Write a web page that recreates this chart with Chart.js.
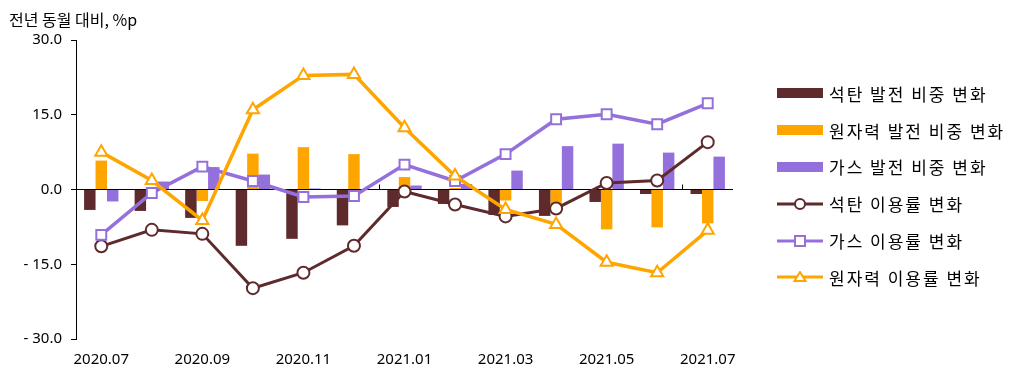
<!DOCTYPE html>
<html>
<head>
<meta charset="utf-8">
<script src="https://cdn.jsdelivr.net/npm/chart.js@4/dist/chart.umd.min.js"></script>
<style>
  body { margin: 0; background: #fff; }
  #wrap { position: relative; width: 1024px; height: 375px; font-family: "Noto Sans CJK KR", "Noto Sans", sans-serif; color: #000; }
  #title { position: absolute; left: 9px; top: 7px; font-size: 16px; }
  #legend { position: absolute; left: 777px; top: 75px; }
  .row { height: 36.8px; display: flex; align-items: center; font-size: 17px; letter-spacing: 2px; }
  .row svg { margin-right: 5px; flex: none; }
</style>
</head>
<body>
<div id="wrap">
  <canvas id="chart" width="1024" height="375"></canvas>
  <div id="title">전년 동월 대비, %p</div>
  <div id="legend"></div>
</div>
<script>
const months = ['2020.07', '2020.08', '2020.09', '2020.10', '2020.11', '2020.12',
  '2021.01', '2021.02', '2021.03', '2021.04', '2021.05', '2021.06', '2021.07'];

// 발전 비중 변화 (bars)
const coalShare = [-4.1, -4.3, -5.7, -11.3, -9.9, -7.2, -3.5, -2.9, -5.1, -5.3, -2.5, -0.9, -0.9];
const nuclearShare = [5.8, 0.0, -2.3, 7.2, 8.5, 7.1, 2.5, 0.3, -2.2, -3.0, -8.0, -7.6, -6.8];
const gasShare = [-2.4, 1.6, 4.5, 3.0, 0.2, 0.0, 0.8, 1.1, 3.8, 8.7, 9.2, 7.4, 6.6];

// 이용률 변화 (lines)
const coalUtil = [-11.4, -8.1, -8.9, -19.8, -16.7, -11.3, -0.4, -3.0, -5.4, -3.8, 1.3, 1.8, 9.5];
const gasUtil = [-9.1, -0.7, 4.6, 1.7, -1.5, -1.3, 5.0, 1.7, 7.1, 14.1, 15.1, 13.1, 17.3];
const nuclearUtil = [7.5, 1.8, -6.2, 16.0, 22.9, 23.1, 12.4, 2.7, -4.0, -7.0, -14.6, -16.7, -8.2];

const yTicks = [-30, -15, 0, 15, 30];

const BROWN = '#5e2a2c';
const ORANGE = '#ffa500';
const PURPLE = '#9370db';

const datasets = [
  { type: 'line', label: '석탄 이용률 변화', data: coalUtil, borderColor: BROWN, borderWidth: 3,
    pointStyle: 'circle', pointRadius: 6, pointBorderWidth: 2, pointBackgroundColor: '#fff', pointBorderColor: BROWN, order: 2 },
  { type: 'line', label: '가스 이용률 변화', data: gasUtil, borderColor: PURPLE, borderWidth: 3.5,
    pointStyle: 'rect', pointRadius: 7, pointBorderWidth: 2, pointBackgroundColor: '#fff', pointBorderColor: PURPLE, order: 1 },
  { type: 'line', label: '원자력 이용률 변화', data: nuclearUtil, borderColor: ORANGE, borderWidth: 3.5,
    pointStyle: 'triangle', pointRadius: 7, pointBorderWidth: 2, pointBackgroundColor: '#fff', pointBorderColor: ORANGE, order: 0 },
  { type: 'bar', label: '석탄 발전 비중 변화', data: coalShare, backgroundColor: BROWN, order: 3 },
  { type: 'bar', label: '원자력 발전 비중 변화', data: nuclearShare, backgroundColor: ORANGE, order: 3 },
  { type: 'bar', label: '가스 발전 비중 변화', data: gasShare, backgroundColor: PURPLE, order: 3 }
];

// small tick marks on the zero line, every 6 categories
const zeroTicks = {
  id: 'zeroTicks',
  afterDatasetsDraw(chart) {
    const x = chart.scales.x, y = chart.scales.y;
    const y0 = y.getPixelForValue(0);
    const ctx = chart.ctx;
    ctx.save();
    ctx.strokeStyle = '#000';
    ctx.lineWidth = 1;
    for (let i = 6; i < months.length; i += 6) {
      const px = Math.round((x.getPixelForValue(i - 1) + x.getPixelForValue(i)) / 2) + 0.5;
      ctx.beginPath();
      ctx.moveTo(px, y0 - 5);
      ctx.lineTo(px, y0);
      ctx.stroke();
    }
    ctx.restore();
  }
};

new Chart(document.getElementById('chart'), {
  data: { labels: months, datasets: datasets },
  plugins: [zeroTicks],
  options: {
    responsive: false,
    animation: false,
    layout: { padding: { left: 0, top: 40, right: 291, bottom: 0 } },
    datasets: {
      bar: { categoryPercentage: 0.68, barPercentage: 1.0 },
      line: { tension: 0 }
    },
    plugins: { legend: { display: false }, tooltip: { enabled: false } },
    scales: {
      x: {
        offset: true,
        grid: { display: false, drawTicks: false },
        border: { display: false },
        ticks: {
          autoSkip: false, maxRotation: 0, padding: 12,
          color: '#000', font: { family: '"Noto Sans", sans-serif', size: 15 },
          callback: (v, i) => (i % 2 === 0 ? months[i] : '')
        },
        afterFit: s => { s.height = 36; }
      },
      y: {
        min: -30, max: 30,
        afterBuildTicks: s => { s.ticks = yTicks.map(v => ({ value: v })); },
        grid: {
          color: c => (c.tick && c.tick.value === 0 ? '#000' : 'rgba(0,0,0,0)'),
          tickColor: '#000', tickLength: 5, lineWidth: 1
        },
        border: { display: true, color: '#000', width: 1 },
        ticks: {
          padding: 9, color: '#000', font: { family: '"Noto Sans", sans-serif', size: 15 },
          callback: v => (v < 0 ? '- ' + Math.abs(v).toFixed(1) : v.toFixed(1))
        },
        afterFit: s => { s.width = 76; }
      }
    }
  }
});

// legend: bars first, then lines
const legendOrder = [3, 4, 5, 0, 1, 2];
const legend = document.getElementById('legend');
legendOrder.forEach(idx => {
  const ds = datasets[idx];
  let svg;
  if (ds.type === 'bar') {
    svg = `<svg width="47" height="12"><rect x="0" y="1" width="46" height="10" fill="${ds.backgroundColor}"/></svg>`;
  } else {
    const c = ds.borderColor;
    let marker;
    if (ds.pointStyle === 'circle') marker = `<circle cx="23" cy="6" r="5" fill="#fff" stroke="${c}" stroke-width="2"/>`;
    else if (ds.pointStyle === 'rect') marker = `<rect x="18" y="1" width="10" height="10" fill="#fff" stroke="${c}" stroke-width="2"/>`;
    else marker = `<polygon points="23,1 28.5,10 17.5,10" fill="#fff" stroke="${c}" stroke-width="2"/>`;
    svg = `<svg width="47" height="12"><line x1="0" y1="6" x2="46" y2="6" stroke="${c}" stroke-width="3"/>${marker}</svg>`;
  }
  const row = document.createElement('div');
  row.className = 'row';
  row.innerHTML = svg + '<span>' + ds.label + '</span>';
  legend.appendChild(row);
});
</script>
</body>
</html>
